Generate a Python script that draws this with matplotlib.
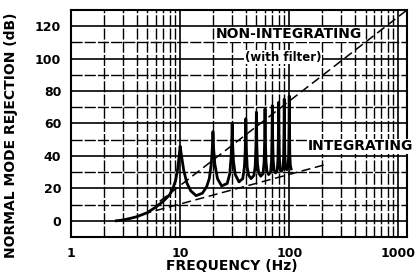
import matplotlib
matplotlib.use("Agg")
import matplotlib.pyplot as plt
from matplotlib.ticker import FixedLocator, NullFormatter, LogLocator

# Integrating converter response (Hz, dB)
freq_int = [2.6, 3.0, 3.5, 4.0, 5.0, 6.0, 7.0, 8.0, 8.6, 9.1, 9.5, 9.8, 10.0,
            10.3, 10.8, 11.5, 12.5, 14.0,
            16.0, 17.5, 18.5, 19.3, 19.7, 20.0, 20.3, 20.8, 22.0, 24.0,
            27.0, 28.5, 29.3, 29.7, 30.0, 30.3, 30.8, 32.0, 34.6,
            37.5, 38.8, 39.5, 40.0, 40.5, 41.2, 42.5, 44.7,
            47.5, 48.8, 49.5, 50.0, 50.5, 51.2, 52.5, 54.8,
            57.5, 58.8, 59.5, 60.0, 60.5, 61.2, 62.5, 64.8,
            67.5, 68.8, 69.5, 70.0, 70.5, 71.2, 72.5, 74.8,
            77.5, 78.8, 79.5, 80.0, 80.5, 81.2, 82.5, 84.9,
            87.5, 88.8, 89.5, 90.0, 90.5, 91.2, 92.5, 94.9,
            97.5, 98.8, 99.5, 100.0, 100.5, 101.2, 102.5, 104.0]
db_int = [0.0, 0.5, 1.5, 2.5, 5.0, 8.5, 12.0, 16.0, 20.0, 25.0, 32.0, 40.0, 46.0,
          40.0, 31.0, 23.5, 18.5, 15.5,
          17.0, 21.0, 26.0, 35.0, 44.0, 55.0, 44.0, 35.0, 26.0, 21.5,
          23.0, 29.0, 39.0, 47.0, 60.0, 47.0, 37.0, 28.5, 24.0,
          26.0, 33.0, 43.0, 63.0, 43.0, 33.0, 28.0, 26.0,
          28.0, 34.0, 46.0, 67.0, 46.0, 35.0, 29.5, 27.5,
          29.0, 36.0, 49.0, 69.0, 49.0, 37.0, 30.5, 28.5,
          30.0, 37.0, 51.0, 71.0, 51.0, 38.0, 31.5, 29.5,
          31.0, 38.0, 53.0, 73.0, 53.0, 39.0, 32.0, 30.5,
          32.0, 39.0, 55.0, 75.0, 55.0, 40.0, 33.0, 31.5,
          33.0, 41.0, 57.0, 77.0, 57.0, 41.0, 34.0, 32.0]

# dashed envelopes (end points)
freq_nonint = [6.5, 1200]
db_nonint = [12.0, 130.0]
freq_env = [4.5, 210]
db_env = [4.0, 34.5]

x_ticks = [1, 10, 100, 1000]
x_labels = ["1", "10", "100", "1000"]
y_ticks = [0, 20, 40, 60, 80, 100, 120]

fig = plt.figure(figsize=(4.16, 2.75), dpi=100)
ax = fig.add_axes([71 / 416, 38 / 275, 336 / 416, 227 / 275])

ax.set_xscale("log")
ax.set_xlim(1, 1200)
ax.set_ylim(-10, 130)

ax.set_xticks(x_ticks)
ax.set_xticklabels(x_labels)
ax.xaxis.set_minor_locator(LogLocator(base=10, subs=range(2, 10)))
ax.xaxis.set_minor_formatter(NullFormatter())
ax.set_yticks(y_ticks)
ax.yaxis.set_minor_locator(FixedLocator(range(10, 130, 20)))

ax.grid(True, which="major", color="black", lw=1.2)
ax.grid(True, which="minor", color="black", lw=1.0, ls=(0, (8, 1.5)))
ax.set_axisbelow(True)
ax.tick_params(which="both", length=0, pad=7)
for lab in ax.get_xticklabels() + ax.get_yticklabels():
    lab.set_fontweight("bold")
    lab.set_fontsize(9)
for s in ax.spines.values():
    s.set_linewidth(1.5)

ax.plot(freq_int, db_int, color="black", lw=2.0, solid_joinstyle="round")
ax.plot(freq_nonint, db_nonint, color="black", lw=1.1, ls=(0, (6, 3)))
ax.plot(freq_env, db_env, color="black", lw=1.1, ls=(0, (6, 3)))

bbox = dict(facecolor="white", edgecolor="none", pad=0.5)
ax.text(100, 115, "NON-INTEGRATING", fontsize=10, fontweight="bold",
        ha="center", va="center", bbox=bbox)
ax.text(88, 101, "(with filter)", fontsize=8.5, fontweight="bold",
        ha="center", va="center", bbox=bbox)
ax.text(450, 46, "INTEGRATING", fontsize=10, fontweight="bold",
        ha="center", va="center", bbox=bbox, clip_on=False)

ax.set_xlabel("FREQUENCY (Hz)", fontsize=10, fontweight="bold")
ax.xaxis.set_label_coords(0.48, -0.095)
ax.set_ylabel("NORMAL MODE REJECTION (dB)", fontsize=10, fontweight="bold")
ax.yaxis.set_label_coords(-0.158, 0.45)

fig.savefig("out.png", dpi=100)
